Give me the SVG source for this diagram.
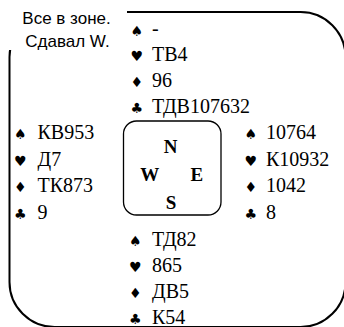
<svg xmlns="http://www.w3.org/2000/svg" width="344" height="327" viewBox="0 0 344 327">
<style>
.card{font-family:"Liberation Serif","Times New Roman",serif;font-size:20px;fill:#000}
.suit{font-family:"DejaVu Sans",sans-serif;font-size:14px;fill:#000;text-anchor:middle}
.dir{font-family:"Liberation Serif","Times New Roman",serif;font-size:19px;font-weight:bold;fill:#000;text-anchor:middle}
.lbl{font-family:"Liberation Sans",Arial,sans-serif;font-size:17px;fill:#000;text-anchor:middle}
</style>
<rect width="344" height="327" fill="#fff"/>
<g id="frame">
<rect x="9.5" y="12" width="336" height="315" rx="45" ry="45" fill="none" stroke="#000" stroke-width="2"/>
</g>
<g id="label">
<rect x="0" y="0" width="127" height="50" fill="#fff"/>
<text class="lbl" x="66.5" y="24">Все в зоне.</text>
<text class="lbl" x="67.5" y="47">Сдавал W.</text>
</g>
<g id="north">
<text class="suit" x="136.7" y="36">♠</text><text class="card" x="152" y="35">-</text>
<text class="suit" x="136.7" y="61">♥</text><text class="card" x="152" y="61">ТВ4</text>
<text class="suit" x="136.7" y="87">♦</text><text class="card" x="152" y="87">96</text>
<text class="suit" x="136.7" y="113">♣</text><text class="card" x="152" y="113">ТДВ107632</text>
</g>
<g id="west">
<text class="suit" x="20.3" y="139">♠</text><text class="card" x="37.5" y="139">КВ953</text>
<text class="suit" x="20.3" y="165.5">♥</text><text class="card" x="37.5" y="165.5">Д7</text>
<text class="suit" x="20.3" y="192">♦</text><text class="card" x="37.5" y="192">ТК873</text>
<text class="suit" x="20.3" y="218.5">♣</text><text class="card" x="37.5" y="218.5">9</text>
</g>
<g id="compass">
<rect x="123.5" y="121" width="97.5" height="94" rx="13" ry="13" fill="none" stroke="#000" stroke-width="1.3"/>
<text class="dir" x="170.5" y="152.5">N</text>
<text class="dir" x="149.7" y="181">W</text>
<text class="dir" x="196.8" y="181">E</text>
<text class="dir" x="171" y="208.5">S</text>
</g>
<g id="east">
<text class="suit" x="250.8" y="139">♠</text><text class="card" x="266" y="139">10764</text>
<text class="suit" x="250.8" y="165.5">♥</text><text class="card" x="266" y="165.5">К10932</text>
<text class="suit" x="250.8" y="192">♦</text><text class="card" x="266" y="192">1042</text>
<text class="suit" x="250.8" y="218.5">♣</text><text class="card" x="266" y="218.5">8</text>
</g>
<g id="south">
<text class="suit" x="135.3" y="245.5">♠</text><text class="card" x="152" y="245.5">ТД82</text>
<text class="suit" x="135.3" y="271.8">♥</text><text class="card" x="152" y="271.8">865</text>
<text class="suit" x="135.3" y="298">♦</text><text class="card" x="152" y="298">ДВ5</text>
<text class="suit" x="135.3" y="324">♣</text><text class="card" x="152" y="324">К54</text>
</g>
<g id="connectors"/>
</svg>
